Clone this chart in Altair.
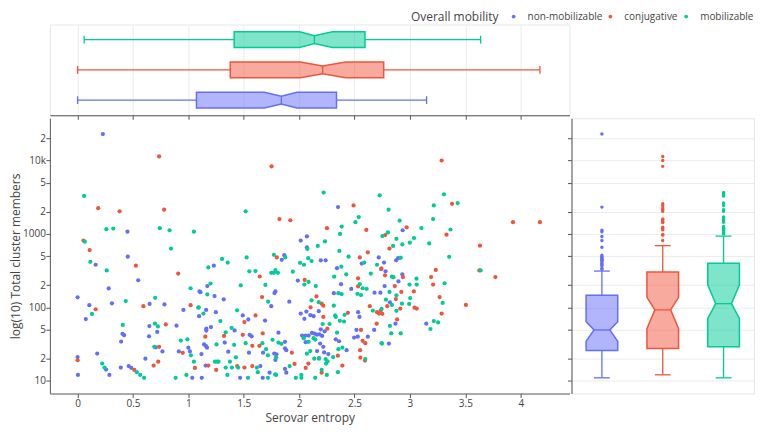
import altair as alt
import pandas as pd

GROUPS = ["non-mobilizable", "conjugative", "mobilizable"]
COLORS = ["#636EFA", "#EF553B", "#00CC96"]

# (serovar entropy, log10 of total cluster members)
non_mobilizable_pts = [
    (0.228, 4.36), (0.45, 3.03), (0.163, 2.58), (0.453, 2.69), (0.547, 2.369), (0.281, 2.257), (0.0, 2.136),
    (0.31, 2.055), (0.65, 2.046), (0.784, 2.04), (0.106, 2.03), (0.074, 1.84), (0.648, 1.745), (0.893, 1.75),
    (0.955, 1.965), (0.645, 1.605), (0.719, 1.665), (0.393, 1.534), (0.405, 1.64), (0.42, 1.62), (1.10, 2.217),
    (1.097, 1.88), (0.704, 1.454), (0.766, 1.40), (0.914, 1.40), (1.0, 1.45), (1.014, 1.40), (0.177, 1.37),
    (0.0, 1.323), (0.612, 1.30), (0.257, 1.153), (0.39, 1.18), (0.461, 1.20), (0.485, 1.175), (0.003, 1.08),
    (0.287, 1.08), (1.035, 1.04), (1.121, 1.04), (1.467, 1.04), (1.671, 1.04), (1.733, 1.11), (1.884, 1.11),
    (2.014, 2.91), (2.07, 2.965), (2.07, 2.817), (1.866, 2.71), (1.843, 2.647), (2.351, 3.365), (2.934, 3.05),
    (2.718, 2.68), (2.766, 2.61), (2.875, 2.64), (2.893, 2.67), (2.195, 2.64), (2.239, 2.64), (2.565, 2.596),
    (1.23, 2.567), (1.171, 2.29), (1.109, 2.207), (1.236, 2.153), (1.319, 2.109), (1.786, 2.217), (1.777, 2.194),
    (1.748, 2.015), (1.16, 1.965), (1.248, 1.934), (1.491, 1.89), (1.541, 1.835), (1.692, 1.82), (1.204, 1.732),
    (1.162, 1.709), (1.162, 1.683), (1.417, 1.686), (1.553, 1.625), (1.571, 1.606), (1.813, 1.655), (1.328, 1.52),
    (1.872, 1.53), (1.16, 1.471), (1.168, 1.45), (1.142, 1.494), (1.118, 1.364), (1.36, 1.396), (1.547, 1.382),
    (1.674, 1.382), (1.775, 1.37), (1.795, 1.36), (1.786, 1.283), (1.156, 1.207), (1.65, 1.20), (1.872, 1.161),
    (1.872, 1.44), (2.342, 2.534), (1.988, 2.365), (2.378, 2.315), (2.47, 2.25), (2.68, 2.20), (2.733, 2.20),
    (2.313, 2.193), (1.911, 2.077), (2.177, 1.948), (2.065, 1.942), (2.014, 1.915), (2.1, 1.894), (2.13, 1.88),
    (2.047, 1.844), (2.532, 1.934), (2.544, 1.87), (2.195, 1.70), (2.23, 1.673), (2.33, 1.565), (2.36, 1.538),
    (2.115, 1.651), (2.138, 1.642), (2.159, 1.628), (2.026, 1.615), (2.056, 1.615), (2.085, 1.615), (2.183, 1.633),
    (2.207, 1.611), (2.059, 1.525), (2.189, 1.507), (2.218, 1.463), (2.428, 1.417), (2.517, 1.692), (2.496, 1.588),
    (2.529, 1.60), (2.62, 1.60), (2.677, 1.692), (1.884, 1.417), (2.162, 1.404), (2.225, 1.386), (2.263, 1.364),
    (2.18, 1.31), (2.74, 2.52), (2.78, 2.49), (2.931, 2.45), (2.896, 2.355), (2.771, 2.29), (2.819, 2.068),
    (2.869, 1.777), (3.147, 1.777), (2.81, 1.507),
]
conjugative_pts = [
    (0.736, 4.055), (0.186, 3.351), (0.379, 3.307), (0.781, 3.33), (0.053, 2.91), (0.109, 2.78), (0.526, 2.567),
    (0.908, 2.46), (0.594, 2.015), (1.02, 2.03), (0.163, 1.974), (0.796, 1.767), (0.736, 1.463), (0.949, 1.38),
    (0.0, 1.28), (0.686, 1.207), (0.728, 1.26), (0.512, 1.148), (1.059, 1.175), (2.203, 1.11), (1.751, 3.92),
    (1.822, 3.203), (1.92, 3.186), (1.798, 2.68), (3.286, 4.0), (2.491, 3.388), (3.38, 3.41), (3.93, 3.16),
    (4.173, 3.16), (2.251, 3.078), (2.606, 3.055), (2.97, 3.09), (3.33, 2.99), (3.632, 2.84), (2.777, 2.984),
    (2.815, 2.80), (2.547, 2.68), (2.62, 2.75), (1.644, 2.42), (1.665, 2.14), (1.606, 1.89), (1.506, 1.80),
    (1.322, 1.61), (1.153, 1.60), (1.491, 1.625), (1.671, 1.646), (1.577, 1.476), (1.641, 1.476), (1.18, 1.207),
    (1.44, 1.20), (1.506, 1.18), (1.577, 1.20), (1.251, 1.148), (2.742, 2.53), (2.05, 2.373), (2.532, 2.396),
    (2.532, 2.284), (2.156, 2.149), (2.203, 2.05), (2.218, 2.023), (2.103, 2.001), (2.218, 1.87), (2.44, 1.925),
    (2.703, 1.934), (2.721, 1.915), (2.638, 2.015), (2.70, 1.777), (2.254, 1.709), (2.349, 1.342), (2.558, 1.692),
    (2.573, 1.544), (2.597, 1.511), (2.55, 1.417), (2.553, 1.315), (2.594, 1.275), (1.934, 1.382), (2.083, 1.234),
    (1.958, 1.229), (2.059, 1.175), (2.39, 1.207), (2.775, 2.436), (2.937, 2.413), (3.233, 2.51), (3.191, 2.413),
    (3.209, 2.31), (2.863, 2.29), (2.922, 2.21), (3.035, 2.217), (2.873, 2.113), (3.268, 2.14), (3.505, 2.032),
    (2.795, 2.015), (2.913, 1.983), (3.041, 1.996), (3.061, 1.983), (2.736, 1.956), (2.751, 1.911), (3.286, 1.915),
    (2.884, 1.835), (3.626, 2.503), (3.771, 2.413),
]
mobilizable_pts = [
    (0.059, 3.517), (0.26, 3.065), (0.322, 3.073), (0.742, 3.078), (0.831, 3.05), (1.05, 3.03), (0.065, 2.894),
    (0.843, 2.80), (0.115, 2.62), (0.263, 2.503), (1.02, 2.26), (0.435, 2.086), (0.70, 2.13), (0.13, 1.91),
    (0.408, 1.76), (0.698, 1.777), (0.725, 1.74), (0.932, 1.548), (0.991, 1.565), (1.094, 2.00), (0.692, 1.463),
    (1.023, 1.346), (0.222, 1.234), (0.243, 1.18), (0.535, 1.117), (0.565, 1.08), (0.60, 1.04), (1.05, 1.26),
    (0.885, 1.04), (0.982, 1.08), (1.352, 1.08), (1.538, 1.04), (1.627, 1.117), (1.718, 1.04), (1.792, 1.08),
    (1.97, 1.04), (2.02, 1.08), (2.02, 1.04), (2.145, 1.04), (2.25, 1.08), (2.35, 1.117), (1.517, 3.307),
    (2.074, 2.795), (2.168, 2.836), (1.304, 2.66), (1.355, 2.61), (1.526, 2.68), (1.772, 2.715), (1.875, 2.68),
    (2.008, 2.607), (2.082, 2.67), (2.112, 2.63), (2.221, 3.563), (2.727, 3.526), (2.807, 3.33), (3.307, 3.54),
    (3.431, 3.42), (3.215, 3.388), (2.538, 3.23), (2.508, 3.16), (2.907, 3.18), (3.209, 3.203), (2.384, 3.10),
    (3.103, 3.08), (3.366, 3.06), (2.233, 2.898), (2.369, 3.0), (2.801, 3.02), (2.751, 2.97), (2.878, 2.934),
    (3.037, 2.943), (2.999, 2.88), (2.931, 2.857), (2.848, 2.836), (3.174, 2.87), (2.363, 2.768), (2.446, 2.69),
    (2.588, 2.61), (2.917, 2.675), (3.354, 2.688), (1.18, 2.544), (1.55, 2.49), (1.606, 2.494), (1.748, 2.47),
    (1.772, 2.47), (1.786, 2.507), (1.808, 2.47), (1.473, 2.30), (1.695, 2.305), (1.20, 2.324), (1.171, 2.176),
    (1.72, 2.077), (1.089, 1.996), (1.136, 1.915), (1.44, 1.96), (1.289, 1.813), (1.39, 1.72), (1.337, 1.66),
    (1.413, 1.49), (1.517, 1.511), (1.668, 1.511), (1.76, 1.557), (1.813, 1.52), (1.84, 1.503), (1.254, 1.494),
    (1.429, 1.32), (1.701, 1.43), (1.718, 1.346), (1.792, 1.32), (1.26, 1.26), (1.24, 1.26), (1.272, 1.26),
    (1.337, 1.18), (1.375, 1.26), (1.393, 1.18), (1.449, 1.18), (1.618, 1.18), (1.784, 1.086), (2.043, 2.58),
    (2.703, 2.58), (1.943, 2.486), (2.381, 2.553), (2.425, 2.45), (2.647, 2.46), (2.316, 2.418), (2.047, 2.31),
    (2.085, 2.346), (2.15, 2.29), (2.547, 2.315), (2.573, 2.26), (2.609, 2.252), (2.354, 2.193), (2.384, 2.18),
    (2.526, 2.184), (2.558, 2.167), (2.112, 2.095), (2.177, 2.07), (2.313, 2.023), (2.325, 1.89), (2.33, 1.87),
    (2.41, 1.898), (2.367, 1.817), (2.405, 1.807), (2.665, 1.956), (2.744, 1.978), (2.212, 1.773), (2.274, 1.773),
    (2.342, 1.655), (2.041, 1.58), (2.13, 1.58), (2.145, 1.561), (2.085, 1.53), (2.354, 1.43), (2.39, 1.45),
    (2.744, 1.511), (2.597, 1.296), (2.07, 1.369), (2.10, 1.404), (2.136, 1.30), (2.177, 1.30), (2.239, 1.296),
    (2.242, 1.234), (2.257, 1.265), (2.307, 1.323), (1.914, 1.20), (2.203, 1.148), (2.837, 2.418), (2.851, 2.41),
    (3.059, 2.39), (2.996, 2.31), (3.061, 2.31), (3.313, 2.328), (2.815, 2.21), (2.878, 2.163), (2.783, 2.104),
    (3.002, 2.127), (2.837, 2.032), (2.928, 2.05), (2.993, 2.046), (3.295, 2.06), (2.878, 1.952), (2.819, 1.746),
    (3.215, 1.813), (3.254, 1.794), (3.185, 1.705), (2.831, 1.646), (2.917, 1.646), (2.748, 1.507), (3.638, 2.503),
]

# box statistics:
# whisker low, q1, notch low, median, notch high, q3, whisker high
entropy_box = {
    "non-mobilizable": [0.0, 1.073, 1.686, 1.839, 1.98, 2.337, 3.15],
    "conjugative": [0.0, 1.378, 2.01, 2.212, 2.42, 2.763, 4.173],
    "mobilizable": [0.059, 1.413, 2.003, 2.138, 2.30, 2.594, 3.638],
}
# same, as log10 of total cluster members
members_box_log = {
    "non-mobilizable": [1.04, 1.413, 1.538, 1.692, 1.803, 2.163, 2.494],
    "conjugative": [1.081, 1.44, 1.709, 1.965, 2.136, 2.48, 2.84],
    "mobilizable": [1.04, 1.463, 1.848, 2.05, 2.306, 2.60, 2.97],
}

X_TICKS = [0, 0.5, 1, 1.5, 2, 2.5, 3, 3.5, 4]
Y_TICKS = [10, 20, 50, 100, 200, 500, 1000, 2000, 5000, 10000, 20000]

TOP_SLOT = {"mobilizable": 0.5, "conjugative": 1.5, "non-mobilizable": 2.5}
RIGHT_SLOT = {"non-mobilizable": 0.5, "conjugative": 1.5, "mobilizable": 2.5}
BOX_HALF = 0.26
NOTCH_HALF = BOX_HALF / 2
CAP_HALF = BOX_HALF / 2

rows = []
for g, pts in zip(GROUPS, [non_mobilizable_pts, conjugative_pts, mobilizable_pts]):
    for e, lg in pts:
        rows.append({"entropy": e, "log": lg, "members": 10 ** lg, "mobility": g})
df = pd.DataFrame(rows)


def box_shapes(stats, slot, to_value):
    area, seg = [], []
    for g in GROUPS:
        lo, q1, nl, med, nh, q3, hi = [to_value(v) for v in stats[g]]
        c = slot[g]
        for v, h in [(q1, BOX_HALF), (nl, BOX_HALF), (med, NOTCH_HALF), (nh, BOX_HALF), (q3, BOX_HALF)]:
            area.append({"v": v, "b": c - h, "b2": c + h, "mobility": g})
        for a, a2, b, b2 in [(lo, q1, c, c), (q3, hi, c, c), (lo, lo, c - CAP_HALF, c + CAP_HALF),
                             (hi, hi, c - CAP_HALF, c + CAP_HALF), (med, med, c - NOTCH_HALF, c + NOTCH_HALF)]:
            seg.append({"a": a, "a2": a2, "b": b, "b2": b2, "mobility": g})
    return pd.DataFrame(area), pd.DataFrame(seg)


top_area_df, top_seg_df = box_shapes(entropy_box, TOP_SLOT, lambda v: v)
right_area_df, right_seg_df = box_shapes(members_box_log, RIGHT_SLOT, lambda v: 10 ** v)

out_rows = []
for g in GROUPS:
    sub = df[(df["mobility"] == g) & (df["log"] > members_box_log[g][6])]
    for m in sub["members"]:
        out_rows.append({"members": m, "pos": RIGHT_SLOT[g], "mobility": g})
out_df = pd.DataFrame(out_rows)

xscale = alt.Scale(domain=[-0.25, 4.44], nice=False, zero=False)
yscale = alt.Scale(type="log", domain=[6.7, 37600], nice=False)
color_scale = alt.Scale(domain=GROUPS, range=COLORS)
band_top = alt.Scale(domain=[0, 3], nice=False, zero=False, reverse=True)
band_right = alt.Scale(domain=[0, 3], nice=False, zero=False)

label_expr = ("datum.value == 10000 ? '10k' : ((datum.value == 10 || datum.value == 100 || datum.value == 1000) "
              "? toString(datum.value) : substring(toString(datum.value), 0, 1))")

AX = dict(domainColor="#555", tickColor="#555", labelColor="#444", titleColor="#444")
top_x_axis = alt.Axis(values=X_TICKS, labels=False, title=None, grid=True, tickSize=4, **AX)
main_x_axis = alt.Axis(values=X_TICKS, format="~g", title="Serovar entropy", grid=False, tickSize=4,
                       labelPadding=1, titlePadding=4, **AX)
main_y_axis = alt.Axis(values=Y_TICKS, labelExpr=label_expr, title="log(10) Total cluster members", grid=False,
                       tickSize=4, labelPadding=0.5, titlePadding=0, **AX)
right_y_axis = alt.Axis(values=Y_TICKS, labels=False, title=None, grid=True, tickSize=4, **AX)

col_nolegend = alt.Color("mobility:N", scale=color_scale, legend=None)
stroke_nolegend = alt.Stroke("mobility:N", scale=color_scale, legend=None)

top_area = alt.Chart(top_area_df).mark_area(orient="vertical", fillOpacity=0.5, strokeWidth=1.5).encode(
    x=alt.X("v:Q", scale=xscale, axis=top_x_axis),
    y=alt.Y("b:Q", scale=band_top, axis=None),
    y2="b2:Q",
    color=col_nolegend,
    stroke=stroke_nolegend,
)
top_seg = alt.Chart(top_seg_df).mark_rule(strokeWidth=1.3).encode(
    x=alt.X("a:Q", scale=xscale, axis=top_x_axis),
    x2="a2:Q",
    y=alt.Y("b:Q", scale=band_top, axis=None),
    y2="b2:Q",
    color=col_nolegend,
)
top = alt.layer(top_seg, top_area).properties(width=521, height=91,
                                              view=alt.ViewBackground(stroke="#e6e6e6"))

main = alt.Chart(df).mark_circle(size=18, opacity=1).encode(
    x=alt.X("entropy:Q", scale=xscale, axis=main_x_axis),
    y=alt.Y("members:Q", scale=yscale, axis=main_y_axis),
    color=alt.Color("mobility:N", scale=color_scale, legend=alt.Legend(
        orient="none", legendX=362, legendY=-107, direction="horizontal", title="Overall mobility",
        titleOrient="left", titleFontSize=12, titleFontWeight="normal", titleColor="#444",
        labelFontSize=10, labelColor="#444", symbolType="circle", symbolSize=14, labelOffset=9,
        columnPadding=3, titlePadding=10, padding=0)),
).properties(width=521, height=276, view=alt.ViewBackground(stroke="transparent"))

right_area = alt.Chart(right_area_df).mark_area(orient="horizontal", fillOpacity=0.5, strokeWidth=1.5).encode(
    y=alt.Y("v:Q", scale=yscale, axis=right_y_axis),
    x=alt.X("b:Q", scale=band_right, axis=None),
    x2="b2:Q",
    color=col_nolegend,
    stroke=stroke_nolegend,
)
right_seg = alt.Chart(right_seg_df).mark_rule(strokeWidth=1.3).encode(
    y=alt.Y("a:Q", scale=yscale, axis=right_y_axis),
    y2="a2:Q",
    x=alt.X("b:Q", scale=band_right, axis=None),
    x2="b2:Q",
    color=col_nolegend,
)
right_out = alt.Chart(out_df).mark_circle(size=12, opacity=1).encode(
    y=alt.Y("members:Q", scale=yscale, axis=right_y_axis),
    x=alt.X("pos:Q", scale=band_right, axis=None),
    color=col_nolegend,
)
right = alt.layer(right_seg, right_area, right_out).properties(
    width=183, height=276, view=alt.ViewBackground(stroke="#e6e6e6"))

row = alt.hconcat(main, right, spacing=2, bounds="flush").resolve_scale(color="independent", stroke="independent")

chart = alt.vconcat(
    top,
    row,
    spacing=3,
    bounds="flush",
).resolve_scale(color="independent", stroke="independent").properties(
    padding={"left": 1, "top": 2, "right": 0, "bottom": 0}
).configure(font="Open Sans").configure_axis(
    labelFont="Open Sans", titleFont="Open Sans", labelFontSize=10, titleFontSize=12,
    titleFontWeight="normal", gridColor="#ebebeb",
).configure_legend(labelFont="Open Sans", titleFont="Open Sans")

chart.save("out.html", embed_options={"renderer": "svg", "actions": False})
